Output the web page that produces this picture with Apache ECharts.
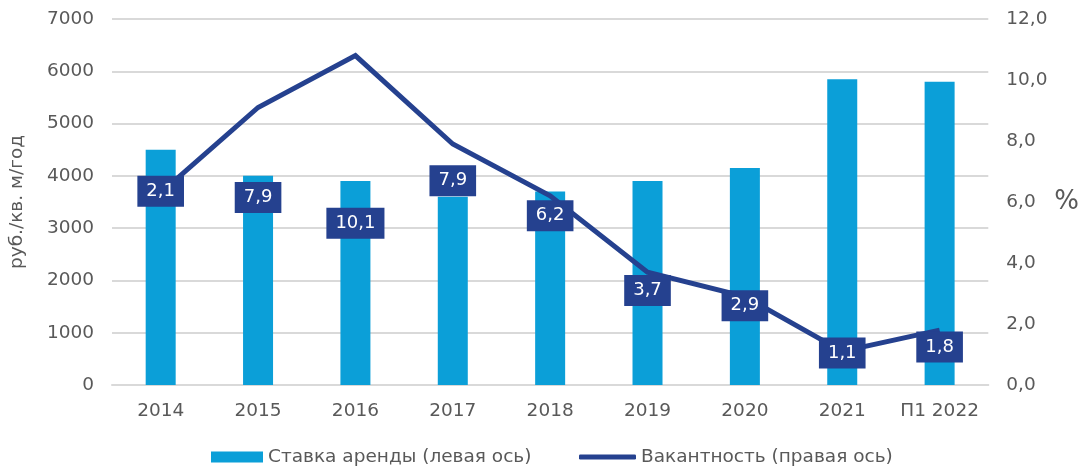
<!DOCTYPE html>
<html>
<head>
<meta charset="utf-8">
<script src="https://cdn.jsdelivr.net/npm/echarts@6/dist/echarts.min.js"></script>
<style>
  html, body { margin: 0; padding: 0; background: #fff; }
  #chart { width: 1082px; height: 469px; }
</style>
</head>
<body>
<div id="chart"></div>
<script>
const years = ['2014', '2015', '2016', '2017', '2018', '2019', '2020', '2021', 'П1 2022'];
const rent = [4500, 4000, 3900, 3600, 3700, 3900, 4150, 5850, 5800];
const vacancy = [6.3, 9.1, 10.8, 7.9, 6.2, 3.7, 2.9, 1.1, 1.8];
// box labels as printed in the source (right-axis level where each box sits)
const boxText = ['2,1', '7,9', '10,1', '7,9', '6,2', '3,7', '2,9', '1,1', '1,8'];
const boxLevel = [6.35, 6.15, 5.3, 6.7, 5.55, 3.1, 2.6, 1.05, 1.25];

const textColor = '#595959';
const font = 'DejaVu Sans';
const fs = 18.5;

const chart = echarts.init(document.getElementById('chart'));
const legendText = { color: textColor, fontSize: fs, fontFamily: font, lineHeight: 20 };
const option = {
    animation: false,
    textStyle: { fontFamily: font },
    grid: { left: 111, right: 93, top: 19, bottom: 84 },
    legend: [
        {
            data: ['Ставка аренды (левая ось)'],
            left: 206,
            top: 442,
            itemWidth: 52,
            itemHeight: 11,
            icon: 'rect',
            textStyle: legendText,
        },
        {
            data: ['Вакантность (правая ось)'],
            left: 574,
            top: 442,
            itemWidth: 57,
            itemHeight: 5,
            icon: 'roundRect',
            textStyle: legendText,
        },
    ],
    xAxis: {
        type: 'category',
        data: years,
        axisLine: { lineStyle: { color: '#d9d9d9', width: 2 } },
        axisTick: { show: false },
        axisLabel: { color: textColor, fontSize: fs, margin: 17, interval: 0 },
    },
    yAxis: [
        {
            type: 'value',
            min: 0,
            max: 7000,
            interval: 1000,
            name: 'руб./кв. м/год',
            nameLocation: 'middle',
            nameGap: 85,
            nameTextStyle: { color: textColor, fontSize: fs },
            axisLine: { show: false },
            axisTick: { show: false },
            axisLabel: { color: textColor, fontSize: fs, margin: 18, formatter: v => String(v) },
            splitLine: { lineStyle: { color: '#d9d9d9', width: 2 } },
        },
        {
            type: 'value',
            min: 0,
            max: 12,
            interval: 2,
            name: '%',
            nameLocation: 'middle',
            nameGap: 66,
            nameRotate: 0,
            nameTextStyle: { color: textColor, fontSize: 26 },
            axisLine: { show: false },
            axisTick: { show: false },
            splitLine: { show: false },
            axisLabel: {
                color: textColor,
                fontSize: fs,
                margin: 18,
                formatter: v => v.toFixed(1).replace('.', ','),
            },
        },
    ],
    series: [
        {
            name: 'Ставка аренды (левая ось)',
            type: 'bar',
            barWidth: 30,
            data: rent,
            itemStyle: { color: '#0b9fd8' },
        },
        {
            name: 'Вакантность (правая ось)',
            type: 'line',
            yAxisIndex: 1,
            data: vacancy,
            symbol: 'none',
            lineStyle: { color: '#25418f', width: 5, join: 'miter' },
            itemStyle: { color: '#25418f' },
            z: 3,
        },
        {
            name: 'labels',
            type: 'scatter',
            yAxisIndex: 1,
            data: boxLevel,
            symbolSize: 0,
            silent: true,
            z: 5,
            itemStyle: { opacity: 1 },
            label: {
                show: true,
                position: 'inside',
                formatter: p => boxText[p.dataIndex],
                color: '#fff',
                fontSize: 18,
                fontFamily: font,
                backgroundColor: '#25418f',
                padding: [6, 9, 5, 9],
                lineHeight: 20,
            },
        },
    ],
};
chart.setOption(option);
window.addEventListener('resize', () => {
    chart.resize();
});
</script>
</body>
</html>
